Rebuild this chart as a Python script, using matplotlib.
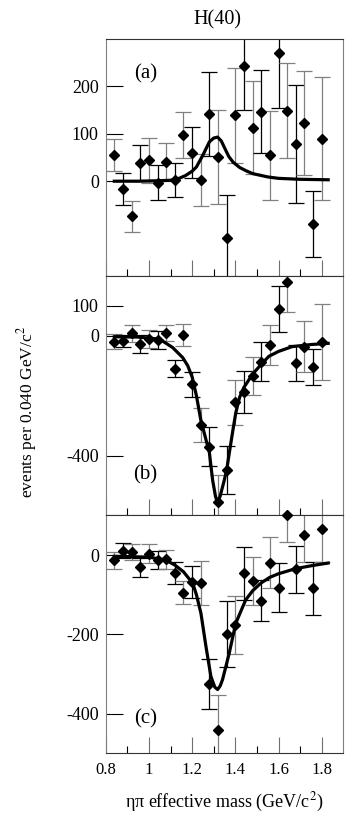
import numpy as np
import matplotlib
matplotlib.use('Agg')
import matplotlib.pyplot as plt
import matplotlib.ticker as mticker

plt.rcParams['font.family'] = ['Liberation Serif', 'DejaVu Serif']
plt.rcParams['mathtext.fontset'] = 'stix'

# bin centres (GeV/c^2), 0.040 wide
mass = [0.84, 0.88, 0.92, 0.96, 1.00, 1.04, 1.08, 1.12, 1.16, 1.20, 1.24, 1.28, 1.32,
        1.36, 1.40, 1.44, 1.48, 1.52, 1.56, 1.60, 1.64, 1.68, 1.72, 1.76, 1.80]

# panel (a)
vals_a = [55, -17, -74, 39, 44, -3, 41, 2, 97, 60, 3, 142, 51,
          -119, 139, 242, 113, 147, 55, 271, 149, 78, 123, -90, 90]
err_a = [33, 34, 33, 38, 48, 37, 40, 36, 49, 54, 55, 88, 99,
         90, 100, 91, 98, 88, 94, 116, 101, 124, 109, 70, 129]
fit_a_m = [0.84, 0.95, 1.05, 1.10, 1.14, 1.17, 1.20, 1.22, 1.25, 1.28, 1.30, 1.318,
           1.335, 1.356, 1.37, 1.39, 1.42, 1.45, 1.48, 1.55, 1.60, 1.70, 1.83]
fit_a_y = [0, 0, 1, 2, 6, 12, 21, 30, 55, 83, 91, 93,
           85, 65, 52, 40, 29, 22, 16, 9, 6, 4, 3]

# panel (b)
vals_b = [-20, -17, 9, -28, -11, -15, 9, -110, 2, -162, -297, -370, -555,
          -448, -222, -188, -134, -87, -31, 90, 179, -92, -36, -104, -20]
err_b = [25, 20, 28, 30, 30, 30, 27, 28, 36, 42, 56, 64, 90,
         80, 75, 71, 63, 65, 67, 78, 100, 60, 85, 60, 128]
fit_b_m = [0.84, 0.95, 1.05, 1.11, 1.157, 1.18, 1.20, 1.22, 1.24, 1.26, 1.28, 1.295,
           1.308, 1.318, 1.33, 1.349, 1.36, 1.372, 1.39, 1.402, 1.42, 1.44, 1.48,
           1.52, 1.556, 1.60, 1.663, 1.75, 1.83]
fit_b_y = [-3, -4, -11, -39, -73, -100, -137, -200, -280, -335, -390, -482,
           -535, -560, -535, -482, -448, -392, -310, -258, -205, -172, -128,
           -95, -68, -52, -36, -29, -25]

# panel (c)
vals_c = [-13, 11, 8, -31, 4, -13, -11, -46, -95, -67, -71, -326, -441,
          -199, -177, -46, -65, -115, -19, -82, 100, -36, 50, -84, 67]
err_c = [22, 19, 20, 24, 24, 23, 24, 28, 29, 40, 55, 63, 88,
         82, 73, 66, 60, 52, 65, 62, 67, 59, 67, 67, 84]
fit_c_m = [0.84, 1.0, 1.08, 1.12, 1.16, 1.203, 1.22, 1.241, 1.264, 1.287, 1.305,
           1.318, 1.33, 1.341, 1.372, 1.402, 1.448, 1.48, 1.52, 1.56, 1.60, 1.68,
           1.76, 1.83]
fit_c_y = [-3, -5, -13, -25, -42, -71, -100, -147, -230, -306, -333,
           -339, -330, -314, -247, -172, -113, -90, -70, -56, -47, -34,
           -26, -20]

panels = [
    ('(a)', vals_a, err_a, fit_a_m, fit_a_y, (-200, 300), [0, 100, 200], 226),
    ('(b)', vals_b, err_b, fit_b_m, fit_b_y, (-600, 200), [-400, 0, 100], -465),
    ('(c)', vals_c, err_c, fit_c_m, fit_c_y, (-500, 100), [-400, -200, 0], -412),
]

# axes boxes in figure fraction: left, bottom, width, height
boxes = [
    (0.3055, 0.6630, 0.6867, 0.2894),
    (0.3055, 0.3706, 0.6867, 0.2924),
    (0.3055, 0.0802, 0.6867, 0.2904),
]


def draw_panel(ax, label, vals, errs, fit_m, fit_y, ylim, yticks, label_y, last):
    m = np.array(mass)
    v = np.array(vals)
    e = np.array(errs)
    for i in range(len(m)):
        col = '#808080' if i % 2 == 0 else 'black'
        ax.errorbar(m[i], v[i], yerr=e[i], fmt='none', ecolor=col,
                    elinewidth=0.9, capsize=5.6, capthick=0.9, zorder=2)
    ax.plot(fit_m, fit_y, color='black', lw=2.3, zorder=3,
            solid_joinstyle='round')
    ax.plot(m, v, 'D', color='black', ms=5.5, zorder=4, clip_on=False)

    ax.set_xlim(0.8, 1.9)
    ax.set_ylim(*ylim)
    ax.set_yticks(yticks)
    ax.set_yticklabels([str(t) for t in yticks])
    ax.tick_params(axis='y', direction='in', length=12, width=0.8,
                   labelsize=13, pad=5, color='black')

    ax.xaxis.set_major_locator(mticker.FixedLocator([0.8, 1.0, 1.2, 1.4, 1.6, 1.8]))
    ax.xaxis.set_minor_locator(mticker.FixedLocator([0.9, 1.1, 1.3, 1.5, 1.7]))
    ax.tick_params(axis='x', which='major', direction='in', length=11.5,
                   width=0.8, color='#707070', labelsize=12, pad=6)
    ax.tick_params(axis='x', which='minor', direction='in', length=5,
                   width=0.8, color='black')
    if last:
        ax.set_xticklabels(['0.8', '1', '1.2', '1.4', '1.6', '1.8'])
    else:
        ax.tick_params(axis='x', labelbottom=False)

    for side in ['left', 'right']:
        ax.spines[side].set_color('#808080')
        ax.spines[side].set_linewidth(0.8)
    for side in ['top', 'bottom']:
        ax.spines[side].set_color('#333333')
        ax.spines[side].set_linewidth(0.8)

    ax.text(0.984, label_y, label, fontsize=15, ha='center', va='center')


fig = plt.figure(figsize=(3.46, 8.19), dpi=100)
for k, (box, p) in enumerate(zip(boxes, panels)):
    ax = fig.add_axes(box)
    draw_panel(ax, *p, last=(k == 2))

fig.text(0.627, 0.9756, 'H(40)', fontsize=14.5, ha='center', va='center')
fig.text(0.078, 0.497, 'events per 0.040 GeV/c$^2$', fontsize=12.5,
         rotation=90, ha='center', va='center')
fig.text(0.647, 0.020, '\u03b7\u03c0 effective mass (GeV/c$^2$)', fontsize=13,
         ha='center', va='center')

plt.savefig('out.png', dpi=100)
plt.close()
